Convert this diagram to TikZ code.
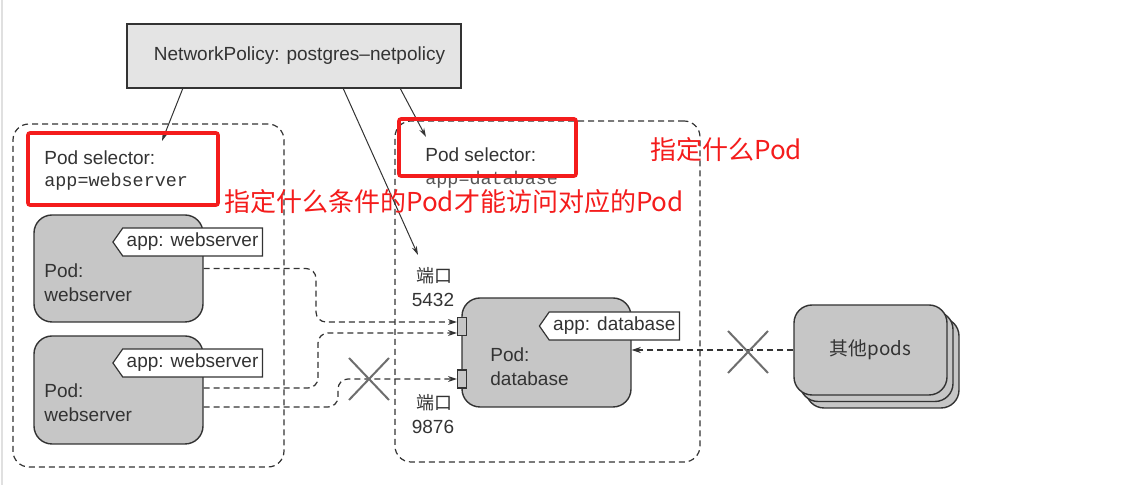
\documentclass[tikz,border=0pt]{standalone}
\usepackage{fontspec}
\setmainfont{Liberation Sans}
\setmonofont{Liberation Mono}
\newfontfamily\cjk{Noto Sans CJK SC}
\usetikzlibrary{arrows.meta,shapes.symbols}
\definecolor{ink}{HTML}{333333}
\definecolor{monoink}{HTML}{555555}
\definecolor{podfill}{HTML}{C6C6C6}
\definecolor{npfill}{HTML}{E4E4E4}
\definecolor{annot}{HTML}{F41C1C}
\definecolor{crossc}{HTML}{6E6E6E}
\begin{document}
\begin{tikzpicture}[x=0.5pt,y=-0.5pt,
  txt/.style={font=\fontsize{9.5}{12}\selectfont, text=ink, inner sep=0pt},
  podtxt/.style={font=\fontsize{9.5}{12.2}\selectfont, text=ink, inner sep=0pt, align=left},
  cjktxt/.style={font=\cjk\fontsize{9}{12}\selectfont, text=ink, inner sep=0pt},
  mono/.style={font=\ttfamily\fontsize{9.2}{11}\selectfont, text=ink, inner sep=0pt},
  group/.style={draw=ink, dash pattern=on 3pt off 2pt, rounded corners=8pt, line width=0.6pt},
  npbox/.style={draw=ink, fill=npfill, line width=0.7pt, minimum width=167pt, minimum height=32pt, font=\fontsize{9.5}{12}\selectfont, text=ink},
  pod/.style={draw=ink, fill=podfill, line width=0.7pt, rounded corners=9pt},
  tag/.style={shape=signal, signal to=west, signal pointer angle=110, draw=ink, fill=white, line width=0.6pt, minimum height=14pt, inner xsep=2pt, inner ysep=0pt, font=\fontsize{9.5}{12}\selectfont, text=ink},
  port/.style={draw=ink, fill=podfill, line width=0.6pt, minimum width=4.5pt, minimum height=9pt, inner sep=0pt},
  flow/.style={draw=ink, dash pattern=on 3pt off 2pt, line width=0.6pt, rounded corners=5pt, -{Stealth[length=4.5pt,width=3pt]}},
  ptr/.style={draw=ink, line width=0.5pt, -{Stealth[length=4.5pt,width=2.6pt]}},
  redbox/.style={draw=annot, line width=1.8pt, rounded corners=1pt, inner sep=0pt},
  redtxt/.style={font=\cjk\fontsize{13}{15}\selectfont, text=annot, inner sep=0pt},
  cross/.style={draw=crossc, line width=1pt}
]
\useasboundingbox (0,0) rectangle (1130,485);
\draw[black!12, line width=1pt] (1.5,0) -- (1.5,485);

% groups
\node[group, minimum width=135.5pt, minimum height=171.5pt] (gleft) at (148.5,295.5) {};
\node[group, minimum width=152.5pt, minimum height=170.5pt] (gright) at (547.5,291.5) {};

% network policy
\node[npbox] (np) at (294,56) {\hspace*{5.5pt}NetworkPolicy: postgres\textendash netpolicy};

% selectors
\node[txt, anchor=west] (sel1) at (44,158) {Pod selector:};
\node[mono, anchor=west] (sel1v) at (44,182) {app=webserver};
\node[txt, anchor=west] (sel2) at (425,155) {Pod selector:};
\node[mono, anchor=west, text=monoink] (sel2v) at (425,180) {app=database};

% webserver pods
\node[pod, minimum width=84.5pt, minimum height=53.5pt] (ws1) at (118.5,268.5) {};
\node[podtxt, anchor=west] (ws1t) at (44,282.5) {Pod:\\webserver};
\node[tag, anchor=east] (ws1tag) at (263,242) {app: webserver};

\node[pod, minimum width=84.5pt, minimum height=54pt] (ws2) at (118.5,390) {};
\node[podtxt, anchor=west] (ws2t) at (44,403) {Pod:\\webserver};
\node[tag, anchor=east] (ws2tag) at (263,363) {app: webserver};

% database pod
\node[pod, minimum width=84.5pt, minimum height=54.5pt] (db) at (546.5,352.5) {};
\node[podtxt, anchor=west] (dbt) at (490,366.5) {Pod:\\database};
\node[tag, anchor=east] (dbtag) at (680,326) {app: database};

% ports
\node[port] (port1) at (462,326.5) {};
\node[port] (port2) at (462,379) {};
\node[cjktxt] (p1a) at (434,276) {端口};
\node[txt] (p1b) at (433,300) {5432};
\node[cjktxt] (p2a) at (434,403) {端口};
\node[txt] (p2b) at (433,427) {9876};

% other pods
\node[pod, minimum width=76.5pt, minimum height=45pt] (other3) at (882.5,363) {};
\node[pod, minimum width=76.5pt, minimum height=45pt] (other2) at (876.5,356.5) {};
\node[pod, minimum width=76.5pt, minimum height=45pt, font=\cjk\fontsize{9.4}{12}\selectfont, text=ink] (other1) at (870.5,350) {其他pods};

% pointer arrows from the policy
\coordinate (npa) at (183,88);
\coordinate (npb) at (343,88);
\coordinate (npc) at (400,88);
\coordinate (sel1in) at (162,141);
\coordinate (port1in) at (418,255);
\coordinate (sel2in) at (426,137);
\draw[ptr] (npa) -- (sel1in);
\draw[ptr] (npb) -- (port1in);
\draw[ptr] (npc) -- (sel2in);

% traffic
\coordinate (ya) at (0,322);
\coordinate (yb) at (0,333);
\coordinate (yc) at (0,379);
\coordinate (yd) at (0,388);
\coordinate (ye) at (0,407);
\draw[flow] (ws1.east) -| (316,322) -- (port1.west |- ya);
\draw[flow] (ws2.east |- yd) -| (318,333) -- (port1.west |- yb);
\draw[flow] (ws2.east |- ye) -| (338,379) -- (port2.west |- yc);
\draw[flow] (other1.west) -- (other1.west -| db.east);

% crosses
\coordinate (x1) at (369,379);
\coordinate (x2) at (748,352);
\draw[cross] (x1) ++(-20,-21) -- ++(40,42) ++(0,-42) -- ++(-40,42);
\draw[cross] (x2) ++(-20,-21) -- ++(40,42) ++(0,-42) -- ++(-40,42);

% annotations
\node[redbox, minimum width=95pt, minimum height=36pt] (rb1) at (123,169) {};
\node[redbox, minimum width=88.5pt, minimum height=28.5pt] (rb2) at (487.5,147.5) {};
\node[redtxt, anchor=west] (note1) at (650,150) {指定什么Pod};
\node[redtxt, anchor=west] (note2) at (224,202) {指定什么条件的Pod才能访问对应的Pod};
\end{tikzpicture}
\end{document}
